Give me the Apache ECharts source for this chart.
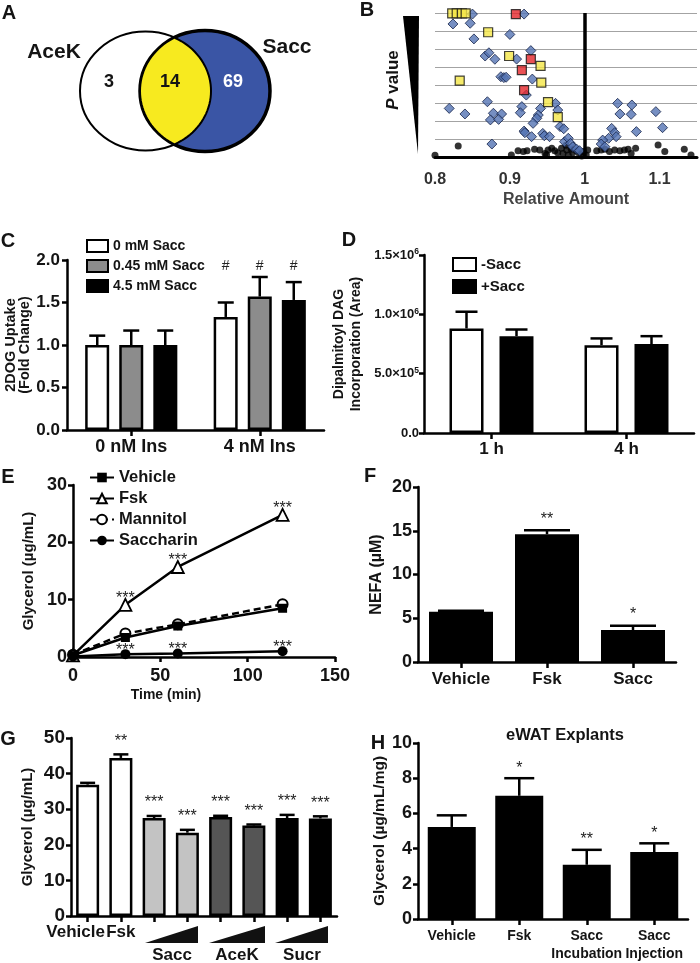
<!DOCTYPE html>
<html>
<head>
<meta charset="utf-8">
<script src="https://cdn.jsdelivr.net/npm/echarts@6/dist/echarts.min.js"></script>
<style>
  html, body { margin: 0; padding: 0; background: #fff; }
  #main { width: 700px; height: 963px; }
</style>
</head>
<body>
<div id="main"></div>
<script>
const FONT = '"Liberation Sans", Arial, Helvetica, sans-serif';

// A: venn
const vennSets = ['AceK', 'Sacc'];
const vennCounts = [3, 14, 69];

// B: relative amount vs p value rank
const bTicks = ['0.8', '0.9', '1', '1.1'];
const bNonSig = [
  [0.800, 0.10], [0.831, 0.61], [0.902, 0.11], [0.911, 0.35], [0.918, 0.30], [0.923, 0.35],
  [0.933, 0.43], [0.940, 0.39], [0.947, 0.20], [0.949, 0.12], [0.951, 0.39], [0.956, 0.48],
  [0.960, 0.35], [0.964, 0.24], [0.969, 0.48], [0.971, 0.20], [0.975, 0.65], [0.976, 0.39],
  [0.978, 0.11], [0.982, 0.43], [0.984, 0.24], [0.989, 0.35], [0.993, 0.17], [0.998, 0.30],
  [0.996, 0.06], [1.002, 0.11], [1.004, 0.39], [1.016, 0.35], [1.022, 0.39], [1.027, 0.43],
  [1.033, 0.30], [1.040, 0.39], [1.047, 0.35], [1.053, 0.39], [1.058, 0.43], [1.062, 0.20],
  [1.068, 0.48], [1.098, 0.67], [1.107, 0.30], [1.133, 0.43], [1.142, 0.11]
];
const bSaccOnly = [
  [0.850, 7.94], [0.919, 7.94], [0.824, 7.39], [0.847, 7.43], [0.852, 6.56], [0.900, 6.81],
  [0.867, 5.61], [0.872, 5.79], [0.880, 5.43], [0.909, 5.44], [0.928, 5.91], [0.888, 4.46],
  [0.892, 4.41], [0.895, 4.43], [0.930, 4.33], [0.922, 3.44], [0.870, 3.07], [0.819, 2.70],
  [0.840, 2.39], [0.878, 2.43], [0.889, 2.39], [0.874, 2.06], [0.885, 2.09], [0.916, 2.80],
  [0.914, 2.46], [0.941, 2.70], [0.938, 2.33], [0.936, 2.15], [0.931, 1.87], [0.961, 2.98],
  [0.964, 2.61], [0.967, 1.69], [0.972, 1.57], [0.919, 1.44], [0.920, 1.35], [0.929, 1.13],
  [0.944, 1.31], [0.946, 1.18], [0.953, 1.13], [0.876, 0.72], [0.973, 0.85], [0.978, 1.04],
  [0.981, 0.76], [0.984, 0.57], [0.989, 0.44], [0.993, 0.35], [1.044, 2.98], [1.063, 2.89],
  [1.047, 2.39], [1.062, 2.37], [1.095, 2.52], [1.104, 1.63], [1.069, 1.41], [1.036, 1.59],
  [1.040, 1.35], [1.042, 1.13], [1.032, 1.04], [1.024, 0.94], [1.022, 0.72], [1.027, 0.57]
];
const bOverlap = [
  [0.823, 7.98], [0.829, 7.98], [0.836, 7.98], [0.841, 7.98], [0.871, 6.93], [0.899, 5.61],
  [0.941, 5.06], [0.833, 4.24], [0.942, 4.13], [0.951, 3.05], [0.964, 2.22]
];
const bOverlapTop = [[0.908, 7.94], [0.928, 5.44], [0.916, 4.83], [0.919, 3.72]];

// C: 2DOG uptake
const cCats = ['0 nM Ins', '4 nM Ins'];
const cNames = ['0 mM Sacc', '0.45 mM Sacc', '4.5 mM Sacc'];
const cMeans = [[1.0, 1.33], [1.0, 1.57], [1.0, 1.53]];
const cSem = [[0.11, 0.17], [0.17, 0.23], [0.17, 0.21]];
const cMarks = ['', '#'];

// D: DAG incorporation
const dCats = ['1 h', '4 h'];
const dNames = ['-Sacc', '+Sacc'];
const dMeans = [[881000, 740000], [816000, 749000]];
const dSem = [[141000, 57000], [56000, 67000]];

// E: glycerol time course
const eTimes = [0, 30, 60, 120];
const eVehicle = [0.3, 3.4, 5.4, 8.5];
const eFsk = [0.3, 9.1, 15.7, 24.8];
const eMannitol = [0.4, 4.1, 5.7, 9.2];
const eSaccharin = [0.1, 0.5, 0.6, 1.0];
const eFskMarks = ['', '***', '***', '***'];
const eSaccMarks = ['', '***', '***', '***'];

// F: NEFA
const fCats = ['Vehicle', 'Fsk', 'Sacc'];
const fMeans = [5.75, 14.6, 3.65];
const fSem = [0.12, 0.45, 0.5];
const fMarks = ['', '**', '*'];

// G: glycerol, sweeteners
const gCats = ['Vehicle', 'Fsk', 'Sacc low', 'Sacc high', 'AceK low', 'AceK high', 'Sucr low', 'Sucr high'];
const gMeans = [36.9, 44.4, 27.5, 23.4, 27.8, 25.4, 27.5, 27.4];
const gSem = [0.5, 1.0, 0.6, 0.8, 0.35, 0.3, 0.9, 0.6];
const gMarks = ['', '**', '***', '***', '***', '***', '***', '***'];
const gGroups = ['Sacc', 'AceK', 'Sucr'];
const gColors = ['#ffffff', '#ffffff', '#c3c3c3', '#c3c3c3', '#555555', '#555555', '#000000', '#000000'];

// H: eWAT explants
const hCats = ['Vehicle', 'Fsk', 'Sacc\nIncubation', 'Sacc\nInjection'];
const hMeans = [5.23, 7.0, 3.08, 3.8];
const hSem = [0.66, 1.0, 0.85, 0.5];
const hMarks = ['', '*', '**', '*'];

const INK = '#141414';

function yAxisOf(gi, min, max, interval, name, nameGap, o) {
  return {
    gridIndex: gi, type: 'value', min, max, interval,
    axisLine: { show: true, onZero: false, lineStyle: { color: '#000', width: 2.5 } },
    axisTick: { show: true, length: 5, lineStyle: { color: '#000', width: 2.5 } },
    splitLine: { show: false },
    axisLabel: {
      fontSize: o.labelSize, fontWeight: 'bold', color: INK, fontFamily: FONT,
      margin: o.margin || 7, formatter: o.formatter, rich: o.rich
    },
    name, nameLocation: 'middle', nameGap,
    nameTextStyle: { fontSize: o.nameSize, fontWeight: 'bold', color: INK, fontFamily: FONT, lineHeight: o.nameLH }
  };
}

function catAxisOf(gi, data, o) {
  return {
    gridIndex: gi, type: 'category', data,
    axisLine: { show: true, lineStyle: { color: '#000', width: 2.5 } },
    axisTick: { show: true, alignWithLabel: true, length: 6, lineStyle: { color: '#000', width: 2.5 } },
    splitLine: { show: false },
    axisLabel: {
      interval: 0, fontSize: o.labelSize, fontWeight: 'bold', color: INK, fontFamily: FONT,
      margin: o.margin, lineHeight: o.lineHeight, formatter: o.formatter, rich: o.rich
    }
  };
}

// error bar (upper only) + significance mark, drawn on top of a bar
function errRender(o) {
  return function (params, api) {
    const base = api.coord([api.value(0), api.value(1)]);
    const top = api.coord([api.value(0), api.value(2)]);
    const x = base[0] + o.offset;
    const h = o.cap / 2;
    const kids = [
      { type: 'line', shape: { x1: x, y1: base[1], x2: x, y2: top[1] }, style: { stroke: '#000', lineWidth: 2.5 } },
      { type: 'line', shape: { x1: x - h, y1: top[1], x2: x + h, y2: top[1] }, style: { stroke: '#000', lineWidth: 2.5 } }
    ];
    const mark = o.marks ? o.marks[params.dataIndex] : '';
    if (mark) {
      const y = o.markAt != null ? api.coord([api.value(0), o.markAt])[1] : top[1] - o.markGap;
      kids.push({
        type: 'text',
        style: {
          text: mark, x, y, align: 'center', verticalAlign: 'bottom',
          fontSize: o.markSize, fontFamily: FONT, fontWeight: 'normal', fill: '#222'
        }
      });
    }
    return { type: 'group', children: kids };
  };
}

function errSeries(ai, means, sem, o) {
  return {
    type: 'custom', xAxisIndex: ai, yAxisIndex: ai, silent: true, z: 5,
    data: means.map((m, i) => [i, m, m + sem[i]]),
    encode: { x: 0, y: [1, 2] },
    renderItem: errRender(o)
  };
}

// lens of the venn diagram
const vL = { cx: 145.5, cy: 91, rx: 65.5, ry: 59.5 };
const vR = { cx: 205, cy: 91, rx: 65, ry: 60.5 };
function lensPoints() {
  const xi = (vL.cx + vR.cx) / 2;
  const a1 = Math.acos((xi - vL.cx) / vL.rx);
  const a2 = Math.acos((vR.cx - xi) / vR.rx);
  const pts = [];
  for (let k = 0; k <= 40; k++) {
    const t = -a1 + (2 * a1 * k) / 40;
    pts.push([vL.cx + vL.rx * Math.cos(t), vL.cy + vL.ry * Math.sin(t)]);
  }
  for (let k = 0; k <= 40; k++) {
    const t = Math.PI - a2 + (2 * a2 * k) / 40;
    pts.push([vR.cx + vR.rx * Math.cos(t), vR.cy + vR.ry * Math.sin(t)]);
  }
  return pts;
}

function txt(x, y, text, size, extra) {
  return {
    type: 'text', x, y, z: 10,
    style: Object.assign({
      text, fontSize: size, fontWeight: 'bold', fontFamily: FONT, fill: INK,
      align: 'center', verticalAlign: 'middle'
    }, extra || {})
  };
}

const graphics = [
  txt(9, 13, 'A', 20), txt(367, 10, 'B', 20), txt(8, 241, 'C', 20), txt(349, 240, 'D', 20),
  txt(8, 477, 'E', 20), txt(370, 476, 'F', 20), txt(8, 739, 'G', 20), txt(378, 743, 'H', 20),
  { type: 'ellipse', shape: vL, style: { fill: '#fff', stroke: '#000', lineWidth: 2 } },
  { type: 'ellipse', shape: vR, style: { fill: '#3a55a5', stroke: '#000', lineWidth: 3.5 } },
  { type: 'polygon', shape: { points: lensPoints() }, style: { fill: '#f7ea1f', stroke: '#000', lineWidth: 2 } },
  txt(54, 52, vennSets[0], 21), txt(287, 47, vennSets[1], 21),
  txt(109, 82, String(vennCounts[0]), 18), txt(170, 82, String(vennCounts[1]), 18),
  txt(233, 82, String(vennCounts[2]), 18, { fill: '#fff' }),
  { type: 'polygon', shape: { points: [[403, 16], [419, 16], [418, 154]] }, style: { fill: '#000' } },
  {
    type: 'text', x: 393, y: 80, rotation: Math.PI / 2, z: 10,
    style: {
      text: '{i|P} value', fontSize: 17, fontWeight: 'bold', fontFamily: FONT, fill: INK,
      align: 'center', verticalAlign: 'middle',
      rich: { i: { fontStyle: 'italic', fontSize: 17, fontWeight: 'bold', fontFamily: FONT, fill: INK } }
    }
  },
  { type: 'polygon', shape: { points: [[145, 943], [198, 943], [198, 926]] }, style: { fill: '#111' } },
  { type: 'polygon', shape: { points: [[209, 943], [265, 943], [265, 926]] }, style: { fill: '#111' } },
  { type: 'polygon', shape: { points: [[275, 943], [328, 943], [328, 926]] }, style: { fill: '#111' } },
  txt(172, 955, gGroups[0], 17), txt(237, 955, gGroups[1], 17), txt(302, 955, gGroups[2], 17),
  txt(565, 735, 'eWAT Explants', 16.5)
];

const chart = echarts.init(document.getElementById('main'), null, { renderer: 'canvas' });

const option = {
  animation: false,
  backgroundColor: '#fff',
  textStyle: { fontFamily: FONT },
  grid: [
    { left: 435, top: 13, width: 262.5, height: 144 },
    { left: 67, top: 260, width: 257, height: 170 },
    { left: 424, top: 255, width: 270, height: 178 },
    { left: 73, top: 485, width: 262, height: 172 },
    { left: 418, top: 487, width: 258, height: 175 },
    { left: 71, top: 738, width: 266, height: 178 },
    { left: 418, top: 743, width: 270, height: 179 }
  ],
  legend: [
    {
      data: cNames, orient: 'vertical', left: 86, top: 239, padding: 0, itemGap: 6,
      itemWidth: 21, itemHeight: 12, icon: 'rect',
      textStyle: { fontSize: 14, fontWeight: 'bold', color: INK, fontFamily: FONT }
    },
    {
      data: dNames, orient: 'vertical', left: 452, top: 257, padding: 0, itemGap: 7,
      itemWidth: 23, itemHeight: 13, icon: 'rect',
      textStyle: { fontSize: 15, fontWeight: 'bold', color: INK, fontFamily: FONT }
    },
    {
      data: ['Vehicle', 'Fsk', 'Mannitol', 'Saccharin'], orient: 'vertical', left: 89, top: 469,
      padding: 0, itemGap: 4, itemWidth: 24, itemHeight: 12,
      textStyle: { fontSize: 16.5, fontWeight: 'bold', color: INK, fontFamily: FONT }
    }
  ],
  xAxis: [
    {
      gridIndex: 0, type: 'value', min: 0.8, max: 1.15, interval: 0.1,
      axisLine: { onZero: false, lineStyle: { color: '#000', width: 3 } },
      axisTick: { show: false }, splitLine: { show: false },
      axisLabel: {
        fontSize: 16, fontWeight: 'bold', color: '#333', margin: 15,
        formatter: v => { const s = String(Math.round(v * 100) / 100); return bTicks.includes(s) ? s : ''; }
      },
      name: 'Relative Amount', nameLocation: 'middle', nameGap: 35,
      nameTextStyle: { fontSize: 16, fontWeight: 'bold', color: '#444' }
    },
    catAxisOf(1, cCats, { labelSize: 18, margin: 8 }),
    catAxisOf(2, dCats, { labelSize: 17, margin: 8 }),
    {
      gridIndex: 3, type: 'value', min: 0, max: 150, interval: 50,
      axisLine: { onZero: false, lineStyle: { color: '#000', width: 2.5 } },
      axisTick: { length: 5, lineStyle: { color: '#000', width: 2.5 } },
      splitLine: { show: false },
      axisLabel: { fontSize: 18, fontWeight: 'bold', color: INK, margin: 10 },
      name: 'Time (min)', nameLocation: 'middle', nameGap: 31,
      nameTextStyle: { fontSize: 14, fontWeight: 'bold', color: INK, padding: [0, 76, 0, 0] }
    },
    catAxisOf(4, fCats, { labelSize: 17, margin: 9 }),
    catAxisOf(5, gCats, {
      labelSize: 17, margin: 8,
      formatter: (v, i) => (i === 0 ? '{v|' + v + '}' : i === 1 ? '{f|' + v + '}' : ''),
      rich: {
        v: { fontSize: 17, fontWeight: 'bold', fontFamily: FONT, color: INK, padding: [0, 24, 0, 0] },
        f: { fontSize: 17, fontWeight: 'bold', fontFamily: FONT, color: INK }
      }
    }),
    catAxisOf(6, hCats, { labelSize: 14, margin: 8, lineHeight: 18 })
  ],
  yAxis: [
    {
      gridIndex: 0, type: 'value', min: 0, max: 8, interval: 1,
      axisLine: { show: false }, axisTick: { show: false }, axisLabel: { show: false },
      splitLine: { show: true, lineStyle: { color: '#a3a3a3', width: 1 } }
    },
    yAxisOf(1, 0, 2, 0.5, '2DOG Uptake\n(Fold Change)', 27,
      { labelSize: 17, nameSize: 14.5, nameLH: 14, formatter: v => v.toFixed(1) }),
    yAxisOf(2, 0, 1500000, 500000, 'Dipalmitoyl DAG\nIncorporation (Area)', 59, {
      labelSize: 13, nameSize: 14, nameLH: 17, margin: 5,
      formatter: v => {
        if (v === 0) return '{m|0.0}';
        const e = Math.floor(Math.log10(v));
        return '{m|' + (v / Math.pow(10, e)).toFixed(1) + '×10}{s|' + e + '}';
      },
      rich: {
        m: { fontSize: 13, fontWeight: 'bold', color: INK, fontFamily: FONT, lineHeight: 15 },
        s: { fontSize: 8.5, fontWeight: 'bold', color: INK, fontFamily: FONT, verticalAlign: 'top' }
      }
    }),
    yAxisOf(3, 0, 30, 10, 'Glycerol (µg/mL)', 37, { labelSize: 18, nameSize: 15, margin: 6 }),
    yAxisOf(4, 0, 20, 5, 'NEFA (µM)', 33, { labelSize: 18, nameSize: 16, margin: 6 }),
    yAxisOf(5, 0, 50, 10, 'Glycerol (µg/mL)', 36, { labelSize: 19, nameSize: 15, margin: 6 }),
    yAxisOf(6, 0, 10, 2, 'Glycerol (µg/mL/mg)', 30, { labelSize: 18, nameSize: 15.5, margin: 6 })
  ],
  series: [
    // B
    {
      type: 'scatter', name: 'not significant', xAxisIndex: 0, yAxisIndex: 0, data: bNonSig,
      symbol: 'circle', symbolSize: 7, itemStyle: { color: '#000' },
      markLine: {
        silent: true, symbol: 'none', label: { show: false },
        lineStyle: { color: '#000', width: 3.5, type: 'solid' }, data: [{ xAxis: 1 }]
      }
    },
    {
      type: 'scatter', name: 'Sacc only', xAxisIndex: 0, yAxisIndex: 0, data: bSaccOnly,
      symbol: 'diamond', symbolSize: 10,
      itemStyle: { color: '#5473b3', borderColor: '#17244a', borderWidth: 1 }
    },
    {
      type: 'scatter', name: 'AceK and Sacc', xAxisIndex: 0, yAxisIndex: 0, data: bOverlap,
      symbol: 'rect', symbolSize: 9,
      itemStyle: { color: '#f4e646', borderColor: '#111', borderWidth: 1.2 }
    },
    {
      type: 'scatter', name: 'AceK and Sacc top', xAxisIndex: 0, yAxisIndex: 0, data: bOverlapTop,
      symbol: 'rect', symbolSize: 9,
      itemStyle: { color: '#e5262b', borderColor: '#111', borderWidth: 1.2 }
    },
    // C
    ...cNames.map((n, k) => ({
      type: 'bar', name: n, xAxisIndex: 1, yAxisIndex: 1, data: cMeans[k],
      barWidth: 24, barGap: '42%',
      itemStyle: { color: ['#ffffff', '#8c8c8c', '#000000'][k], borderColor: '#000', borderWidth: 2.5 }
    })),
    ...cNames.map((n, k) => errSeries(1, cMeans[k], cSem[k],
      { offset: (k - 1) * 34, cap: 16, marks: cMarks, markAt: 1.84, markSize: 14 })),
    // D
    ...dNames.map((n, k) => ({
      type: 'bar', name: n, xAxisIndex: 2, yAxisIndex: 2, data: dMeans[k],
      barWidth: 34, barGap: '47%',
      itemStyle: { color: ['#ffffff', '#000000'][k], borderColor: '#000', borderWidth: 2.5 }
    })),
    ...dNames.map((n, k) => errSeries(2, dMeans[k], dSem[k], { offset: (k - 0.5) * 50, cap: 22 })),
    // E
    {
      type: 'line', name: 'Mannitol', xAxisIndex: 3, yAxisIndex: 3,
      data: eTimes.map((t, i) => [t, eMannitol[i]]),
      symbol: 'circle', symbolSize: 10,
      lineStyle: { color: '#000', width: 2.5, type: [7, 4] },
      itemStyle: { color: '#fff', borderColor: '#000', borderWidth: 2 }
    },
    {
      type: 'line', name: 'Vehicle', xAxisIndex: 3, yAxisIndex: 3,
      data: eTimes.map((t, i) => [t, eVehicle[i]]),
      symbol: 'rect', symbolSize: 9,
      lineStyle: { color: '#000', width: 2.5 }, itemStyle: { color: '#000' }
    },
    {
      type: 'line', name: 'Fsk', xAxisIndex: 3, yAxisIndex: 3,
      data: eTimes.map((t, i) => [t, eFsk[i]]),
      symbol: 'triangle', symbolSize: 12,
      lineStyle: { color: '#000', width: 2.5 },
      itemStyle: { color: '#fff', borderColor: '#000', borderWidth: 1.8 },
      label: {
        show: true, position: 'top', distance: 0, offset: [0, 9], fontSize: 16, color: '#222',
        fontWeight: 'normal', formatter: p => eFskMarks[p.dataIndex]
      }
    },
    {
      type: 'line', name: 'Saccharin', xAxisIndex: 3, yAxisIndex: 3,
      data: eTimes.map((t, i) => [t, eSaccharin[i]]),
      symbol: 'circle', symbolSize: 10,
      lineStyle: { color: '#000', width: 2.5 }, itemStyle: { color: '#000' },
      label: {
        show: true, position: 'top', distance: 0, offset: [0, 9], fontSize: 16, color: '#222',
        fontWeight: 'normal', formatter: p => eSaccMarks[p.dataIndex]
      }
    },
    // F
    {
      type: 'bar', name: 'NEFA', xAxisIndex: 4, yAxisIndex: 4, data: fMeans, barWidth: 64,
      itemStyle: { color: '#000' }
    },
    errSeries(4, fMeans, fSem, { offset: 0, cap: 46, marks: fMarks, markGap: 3, markSize: 16 }),
    // G
    {
      type: 'bar', name: 'Glycerol', xAxisIndex: 5, yAxisIndex: 5, barWidth: 23,
      data: gMeans.map((v, i) => ({ value: v, itemStyle: { color: gColors[i] } })),
      itemStyle: { borderColor: '#000', borderWidth: 2.5 }
    },
    errSeries(5, gMeans, gSem, { offset: 0, cap: 15, marks: gMarks, markGap: 5, markSize: 16 }),
    // H
    {
      type: 'bar', name: 'eWAT', xAxisIndex: 6, yAxisIndex: 6, data: hMeans, barWidth: 48,
      itemStyle: { color: '#000' }
    },
    errSeries(6, hMeans, hSem, { offset: 0, cap: 30, marks: hMarks, markGap: 2, markSize: 16 })
  ],
  graphic: graphics
};

chart.setOption(option);
window.addEventListener('resize', () => chart.resize());
</script>
</body>
</html>
